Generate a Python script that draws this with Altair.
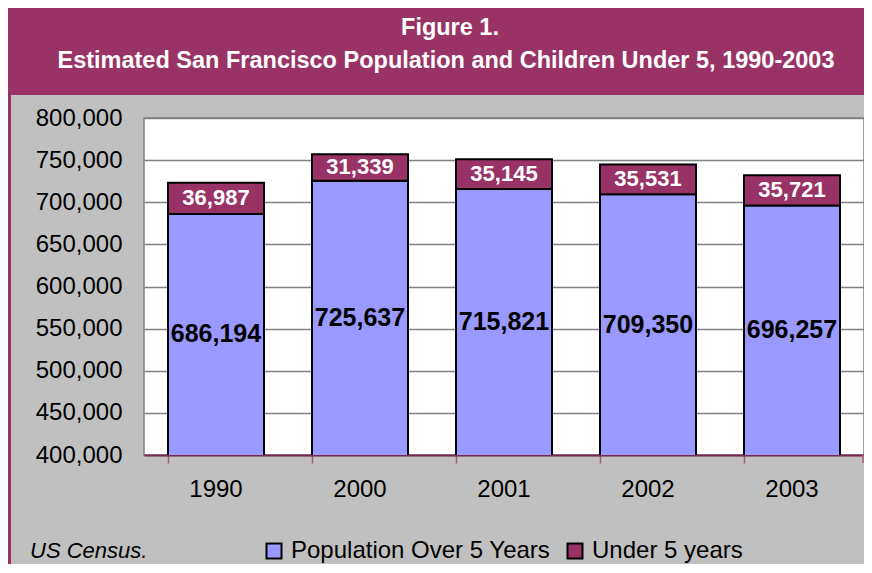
import altair as alt
import pandas as pd

years = ["1990", "2000", "2001", "2002", "2003"]
over5 = [686194, 725637, 715821, 709350, 696257]
under5 = [36987, 31339, 35145, 35531, 35721]
groups = ["Population Over 5 Years", "Under 5 years"]
colors = ["#9999ff", "#993366"]
y_ticks = [400000, 450000, 500000, 550000, 600000, 650000, 700000, 750000, 800000]
title_lines = ["Figure 1.", "Estimated San Francisco Population and  Children Under 5, 1990-2003"]
source_text = "US Census."

FONT = "Liberation Sans"
MAROON = "#993366"

long_rows = []
for y, o, u in zip(years, over5, under5):
    long_rows.append({"year": y, "group": groups[0], "value": o, "ord": 0})
    long_rows.append({"year": y, "group": groups[1], "value": u, "ord": 1})
long_df = pd.DataFrame(long_rows)
wide_df = pd.DataFrame({"year": years, "over": over5, "under": under5})

W, H = 720, 337

xscale = alt.Scale(domain=years, paddingInner=1/3, paddingOuter=1/6)
yscale = alt.Scale(domain=[400000, 800000])

x_enc = alt.X("year:N", scale=xscale, title=None,
              axis=alt.Axis(labelAngle=0, labelFontSize=24, labelFont=FONT, labelColor="black",
                            labelPadding=14, tickSize=8, tickColor="#a8577f", tickWidth=1.5,
                            bandPosition=0, domainColor="#7a2a52", domainWidth=2, grid=False))
y_axis = alt.Axis(values=y_ticks, format=",d", labelFontSize=24, labelFont=FONT, labelColor="black",
                  labelPadding=22, ticks=False, domain=False, grid=True, gridColor="#808080",
                  gridWidth=1.5, title=None)

bars = alt.Chart(long_df).mark_bar(stroke="black", strokeWidth=2, clip=True).encode(
    x=x_enc,
    y=alt.Y("value:Q", stack="zero", scale=yscale, axis=y_axis),
    color=alt.Color("group:N", scale=alt.Scale(domain=groups, range=colors),
                    legend=alt.Legend(orient="none", legendX=118, legendY=421, direction="horizontal",
                                      title=None, labelFontSize=24, labelFont=FONT, labelColor="black",
                                      labelLimit=0, symbolType="square", symbolSize=225,
                                      symbolStrokeColor="black", symbolStrokeWidth=2,
                                      labelOffset=5, columnPadding=12)),
    order=alt.Order("ord:Q"),
)

over_labels = alt.Chart(wide_df).transform_calculate(
    mid="(400000 + datum.over) / 2"
).mark_text(font=FONT, fontSize=25, fontWeight="bold", color="black", baseline="middle").encode(
    x=alt.X("year:N", scale=xscale),
    y=alt.Y("mid:Q", scale=yscale),
    text=alt.Text("over:Q", format=","),
)

under_labels = alt.Chart(wide_df).transform_calculate(
    mid="datum.over + datum.under / 2"
).mark_text(font=FONT, fontSize=22, fontWeight="bold", color="white", baseline="middle").encode(
    x=alt.X("year:N", scale=xscale),
    y=alt.Y("mid:Q", scale=yscale),
    text=alt.Text("under:Q", format=","),
)

one = pd.DataFrame({"k": [0]})
title_bar = alt.Chart(one).mark_rect(color=MAROON).encode(
    x=alt.value(-136), x2=alt.value(W), y=alt.value(-110), y2=alt.value(-23))
left_stripe = alt.Chart(one).mark_rect(color=MAROON).encode(
    x=alt.value(-137), x2=alt.value(-133), y=alt.value(-110), y2=alt.value(H + 120))
end_tick = alt.Chart(one).mark_rule(color="#a8577f", strokeWidth=1.5).encode(
    x=alt.value(W - 1), y=alt.value(H), y2=alt.value(H + 8))

t1 = alt.Chart(pd.DataFrame({"t": [title_lines[0]]})).mark_text(
    font=FONT, fontSize=23.5, fontWeight="bold", color="white", baseline="middle", align="center"
).encode(x=alt.value(306), y=alt.value(-90), text="t:N")
t2 = alt.Chart(pd.DataFrame({"t": [title_lines[1]]})).mark_text(
    font=FONT, fontSize=23.5, fontWeight="bold", color="white", baseline="middle", align="center"
).encode(x=alt.value(302), y=alt.value(-57), text="t:N")
src = alt.Chart(pd.DataFrame({"t": [source_text]})).mark_text(
    font=FONT, fontSize=22, fontStyle="italic", color="black", baseline="middle", align="left"
).encode(x=alt.value(-114), y=alt.value(433), text="t:N")

chart = alt.layer(
    title_bar, left_stripe, t1, t2, src, bars, over_labels, under_labels, end_tick
).properties(
    width=W, height=H,
    background="#c0c0c0",
    padding={"left": 136, "top": 110, "right": 0, "bottom": 109},
    autosize=alt.AutoSizeParams(type="none"),
).configure_view(fill="white", stroke="#808080", strokeWidth=1.5)

chart.save("out.html", embed_options={"renderer": "svg", "actions": False})
